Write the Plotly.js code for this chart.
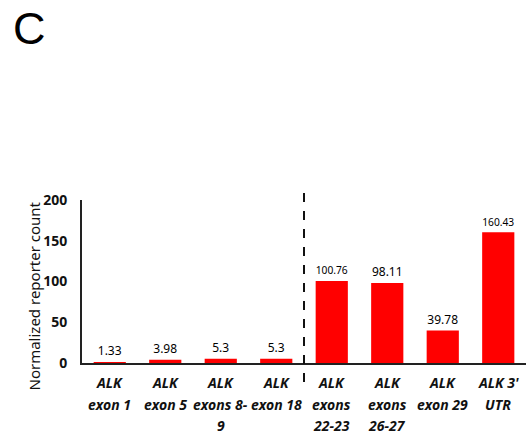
<!DOCTYPE html>
<html><head><meta charset="utf-8">
<script src="https://cdn.plot.ly/plotly-3.0.1.min.js"></script>
<style>html,body{margin:0;padding:0;background:#fff;}#chart{width:526px;height:436px;}</style>
</head><body><div id="chart"></div>
<script>
const categories = ["ALK<br>exon 1","ALK<br>exon 5","ALK<br>exons 8-<br>9","ALK<br>exon 18","ALK<br>exons<br>22-23","ALK<br>exons<br>26-27","ALK<br>exon 29","ALK 3'<br>UTR"];
const values = [1.33, 3.98, 5.3, 5.3, 100.76, 98.11, 39.78, 160.43];
const valueLabels = ["1.33","3.98","5.3","5.3","100.76","98.11","39.78","160.43"];
const yTicks = [0, 50, 100, 150, 200];
const idx = categories.map((c,i)=>i);

const trace = {
  type: 'bar',
  x: idx,
  y: values,
  text: valueLabels,
  textposition: 'outside',
  cliponaxis: false,
  textfont: {family: 'Noto Sans, Liberation Sans, sans-serif', size: 12, color: '#000'},
  marker: {color: '#ff0000', line: {width: 0}},
  width: 0.58,
  hoverinfo: 'none'
};

const tickFont = {family: 'Noto Sans, Liberation Sans, sans-serif', size: 14, color: '#111', weight: 'bold', style: 'italic'};
const tickAnnotations = [];
categories.forEach((c, i) => {
  c.split('<br>').forEach((line, k) => {
    tickAnnotations.push({text: line, xref: 'x', yref: 'paper', x: i, y: 0,
      xanchor: 'center', yanchor: 'middle', yshift: -(19.5 + 21.5 * k),
      showarrow: false, font: tickFont});
  });
});

const layout = {
  width: 526, height: 436,
  margin: {l: 82, r: 0, t: 200, b: 73},
  paper_bgcolor: '#fff', plot_bgcolor: '#fff',
  showlegend: false,
  xaxis: {
    range: [-0.5, 7.5],
    tickmode: 'array', tickvals: idx, showticklabels: false,
    showline: true, linecolor: '#222', linewidth: 2,
    showgrid: false, zeroline: false, ticks: ''
  },
  yaxis: {
    range: [0, 200],
    tickmode: 'array', tickvals: yTicks,
    showline: true, linecolor: '#222', linewidth: 2,
    showgrid: false, zeroline: false, ticks: '',
    ticklabelstandoff: 10,
    tickfont: {family: 'Noto Sans, Liberation Sans, sans-serif', size: 14, color: '#111', weight: 'bold'}
  },
  shapes: [{
    type: 'line', xref: 'x', yref: 'paper',
    x0: 3.5, x1: 3.5, y0: -0.117, y1: 1.061,
    line: {color: '#111', width: 2, dash: 'dash'}
  }],
  annotations: [
    {text: 'C', xref: 'paper', yref: 'paper', x: -0.16, y: 2.055, xanchor: 'left', yanchor: 'middle',
     showarrow: false, font: {family: 'Liberation Sans, Arial, sans-serif', size: 45, color: '#000'}},
    {text: 'Normalized reporter count', xref: 'paper', yref: 'paper', x: 0, y: 0.5,
     xanchor: 'center', yanchor: 'middle',
     xshift: -49, yshift: -15, textangle: -90, showarrow: false,
     font: {family: 'Noto Sans, Liberation Sans, sans-serif', size: 15, color: '#111'}}
  ].concat(tickAnnotations)
};

Plotly.newPlot('chart', [trace], layout, {displayModeBar: false, staticPlot: true});
</script></body></html>
